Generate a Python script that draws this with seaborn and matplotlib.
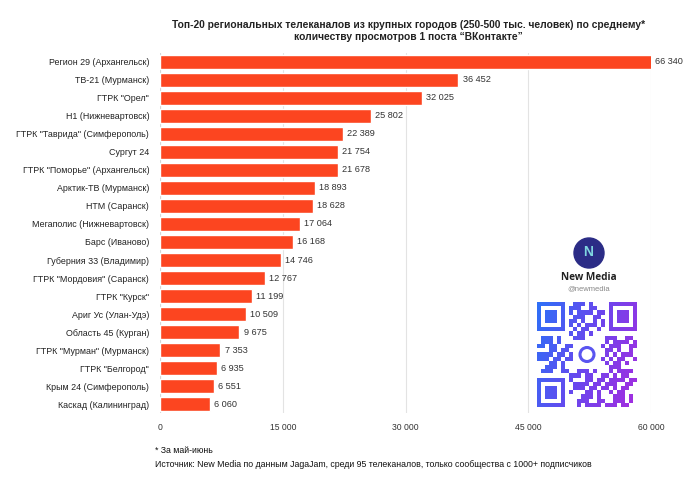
import matplotlib
matplotlib.use("Agg")
import matplotlib.pyplot as plt
from matplotlib.patches import Circle
import numpy as np
import pandas as pd
import seaborn as sns

channels = [
    "Регион 29 (Архангельск)", "ТВ-21 (Мурманск)", "ГТРК \"Орел\"",
    "Н1 (Нижневартовск)", "ГТРК \"Таврида\" (Симферополь)", "Сургут 24",
    "ГТРК \"Поморье\" (Архангельск)", "Арктик-ТВ (Мурманск)", "НТМ (Саранск)",
    "Мегаполис (Нижневартовск)", "Барс (Иваново)", "Губерния 33 (Владимир)",
    "ГТРК \"Мордовия\" (Саранск)", "ГТРК \"Курск\"", "Ариг Ус (Улан-Удэ)",
    "Область 45 (Курган)", "ГТРК \"Мурман\" (Мурманск)", "ГТРК \"Белгород\"",
    "Крым 24 (Симферополь)", "Каскад (Калининград)",
]
views = [66340, 36452, 32025, 25802, 22389, 21754, 21678, 18893, 18628, 17064,
         16168, 14746, 12767, 11199, 10509, 9675, 7353, 6935, 6551, 6060]
x_ticks = [0, 15000, 30000, 45000, 60000]

BAR = "#fc4520"


def fmt(v):
    return f"{v:,}".replace(",", " ")


def qr_matrix(text, n=25):
    # decorative QR-like pattern built from the bytes of a string
    bits = np.unpackbits(np.frombuffer((text * 20).encode(), dtype=np.uint8))
    m = bits[: n * n].reshape(n, n).astype(float)
    for r0, c0 in [(0, 0), (0, n - 7), (n - 7, 0)]:
        m[max(r0 - 1, 0):r0 + 8, max(c0 - 1, 0):c0 + 8] = 0
        m[r0:r0 + 7, c0:c0 + 7] = 1
        m[r0 + 1:r0 + 6, c0 + 1:c0 + 6] = 0
        m[r0 + 2:r0 + 5, c0 + 2:c0 + 5] = 1
    c = n // 2
    m[c - 3:c + 4, c - 3:c + 4] = 0
    return m


df = pd.DataFrame({"channel": channels, "views": views})

sns.set_style("white")
plt.rcParams["font.family"] = ["Liberation Sans", "DejaVu Sans"]

fig = plt.figure(figsize=(7, 4.9), dpi=100)
ax = fig.add_axes([0.229, 0.157, 0.701, 0.735])

sns.barplot(data=df, x="views", y="channel", color=BAR, width=0.78,
            saturation=1, ax=ax, zorder=3)

xmax = 60000
ax.set_xlim(0, xmax)
ax.set_xticks(x_ticks)
ax.set_xticklabels([fmt(t) for t in x_ticks], fontsize=6.2, color="#333333")
ax.tick_params(axis="y", labelsize=6.4, colors="#222222", length=0, pad=8)
ax.tick_params(axis="x", length=0, pad=7)
ax.set_xlabel("")
ax.set_ylabel("")
for s in ax.spines.values():
    s.set_visible(False)
ax.grid(axis="x", color="#e3e3e3", linewidth=0.8, zorder=0)
ax.axvline(0, color="#d5d5d5", linewidth=0.8, zorder=1)

for i, v in enumerate(views):
    ax.text(min(v, xmax) + 500, i, fmt(v), va="center", ha="left",
            fontsize=6.6, color="#333333", clip_on=False)

fig.text(0.583, 0.949, "Топ-20 региональных телеканалов из крупных городов "
         "(250-500 тыс. человек) по среднему*", ha="center", va="center",
         fontsize=7.4, fontweight="bold", color="#222222")
fig.text(0.583, 0.924, "количеству просмотров 1 поста \u201cВКонтакте\u201d",
         ha="center", va="center", fontsize=7.4, fontweight="bold", color="#222222")

fig.text(0.221, 0.080, "* За май-июнь", fontsize=6.3, color="#111111", va="center")
fig.text(0.221, 0.053, "Источник: New Media по данным JagaJam, среди 95 телеканалов, "
         "только сообщества с 1000+ подписчиков", fontsize=6.3, color="#111111",
         va="center")

# New Media badge (pixel-like coordinates, y downward)
card = fig.add_axes([528 / 700, 75 / 490, 122 / 700, 185 / 490])
card.set_xlim(0, 122)
card.set_ylim(185, 0)
card.axis("off")
card.add_patch(Circle((61, 23), 15, color="#2b2c86"))
card.text(60, 22, "N", ha="center", va="center", fontsize=10, fontweight="bold",
          color="#7fd6e0")
card.text(61, 47, "New Media", ha="center", va="center", fontsize=7.2,
          fontweight="bold", color="#222222", family=["Open Sans", "DejaVu Sans"])
card.text(61, 59, "@newmedia", ha="center", va="center", fontsize=5.5,
          color="#888888")

qr = qr_matrix("https://vk.com/newmedia")
n = qr.shape[0]
gx, gy = np.meshgrid(np.linspace(0, 1, n), np.linspace(0, 1, n))
mix = 0.75 * gx + 0.25 * gy
cmap = matplotlib.colors.LinearSegmentedColormap.from_list(
    "qr", ["#2f6ff7", "#6a47ee", "#a32ee0"])
rgba = cmap(mix)
rgba[..., 3] = qr
card.imshow(rgba, extent=(9, 109, 177, 72), interpolation="nearest", zorder=2)
card.add_patch(Circle((59, 124.5), 7, facecolor="none", edgecolor="#5a55f0",
                      linewidth=2.2, zorder=3))
card.set_xlim(0, 122)
card.set_ylim(185, 0)
card.set_aspect("auto")

fig.savefig("out.png", dpi=100, facecolor="white")
